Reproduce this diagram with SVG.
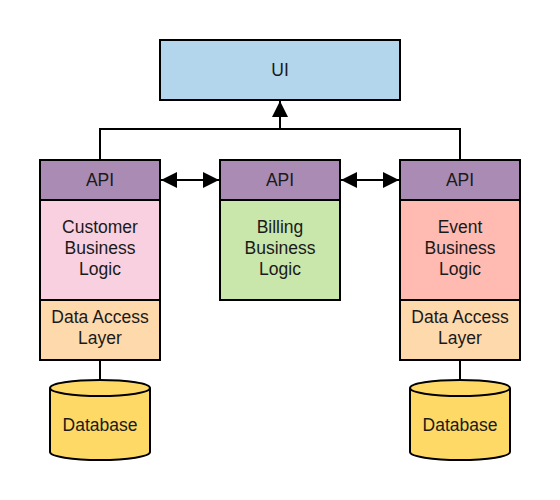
<svg xmlns="http://www.w3.org/2000/svg" width="560" height="500" viewBox="0 0 560 500">
<defs>
<style>
.b{stroke:#000;stroke-width:2}
.t{font-family:"Liberation Sans",Arial,sans-serif;font-size:17.5px;fill:#1a1a1a;text-anchor:middle;dominant-baseline:central}
.c{fill:none;stroke:#000;stroke-width:2}
.api{fill:#a98bb3}
.dal{fill:#fed9ac}
.db{fill:#fed966}
</style>
<marker id="ah" viewBox="0 0 10 10" refX="10" refY="5" markerWidth="16" markerHeight="16" markerUnits="userSpaceOnUse" orient="auto-start-reverse">
<path d="M0,0 L10,5 L0,10 Z" fill="#000"/>
</marker>
</defs>
<rect width="560" height="500" fill="#fff"/>
<g id="connectors">
<path class="c" d="M100,160 V129 H460 V160"/>
<path class="c" d="M280,129 V101" marker-end="url(#ah)"/>
<path class="c" d="M161,180 H219" marker-start="url(#ah)" marker-end="url(#ah)"/>
<path class="c" d="M341,180 H399" marker-start="url(#ah)" marker-end="url(#ah)"/>
<path class="c" d="M100,360 V380"/>
<path class="c" d="M460,360 V380"/>
</g>
<g id="ui">
<rect class="b" x="160" y="40" width="240" height="60" fill="#b3d6ed"/>
<text class="t" x="280" y="70">UI</text>
</g>
<g id="api-customer">
<rect class="b api" x="40" y="160" width="120" height="40"/>
<text class="t" x="100" y="180">API</text>
</g>
<g id="customer-logic">
<rect class="b" x="40" y="200" width="120" height="100" fill="#f8d0e0"/>
<text class="t" x="100" y="227">Customer</text>
<text class="t" x="100" y="248">Business</text>
<text class="t" x="100" y="269">Logic</text>
</g>
<g id="dal-customer">
<rect class="b dal" x="40" y="300" width="120" height="60"/>
<text class="t" x="100" y="317">Data Access</text>
<text class="t" x="100" y="338">Layer</text>
</g>
<g id="db-customer">
<path class="b db" d="M50,388 A50,8 0 0 1 150,388 V452 A50,8 0 0 1 50,452 Z"/>
<path class="c" d="M50,388 A50,8 0 0 0 150,388"/>
<text class="t" x="100" y="425">Database</text>
</g>
<g id="api-billing">
<rect class="b api" x="220" y="160" width="120" height="40"/>
<text class="t" x="280" y="180">API</text>
</g>
<g id="billing-logic">
<rect class="b" x="220" y="200" width="120" height="100" fill="#c9e6ab"/>
<text class="t" x="280" y="227">Billing</text>
<text class="t" x="280" y="248">Business</text>
<text class="t" x="280" y="269">Logic</text>
</g>
<g id="api-event">
<rect class="b api" x="400" y="160" width="120" height="40"/>
<text class="t" x="460" y="180">API</text>
</g>
<g id="event-logic">
<rect class="b" x="400" y="200" width="120" height="100" fill="#ffbab1"/>
<text class="t" x="460" y="227">Event</text>
<text class="t" x="460" y="248">Business</text>
<text class="t" x="460" y="269">Logic</text>
</g>
<g id="dal-event">
<rect class="b dal" x="400" y="300" width="120" height="60"/>
<text class="t" x="460" y="317">Data Access</text>
<text class="t" x="460" y="338">Layer</text>
</g>
<g id="db-event">
<path class="b db" d="M410,388 A50,8 0 0 1 510,388 V452 A50,8 0 0 1 410,452 Z"/>
<path class="c" d="M410,388 A50,8 0 0 0 510,388"/>
<text class="t" x="460" y="425">Database</text>
</g>
</svg>
